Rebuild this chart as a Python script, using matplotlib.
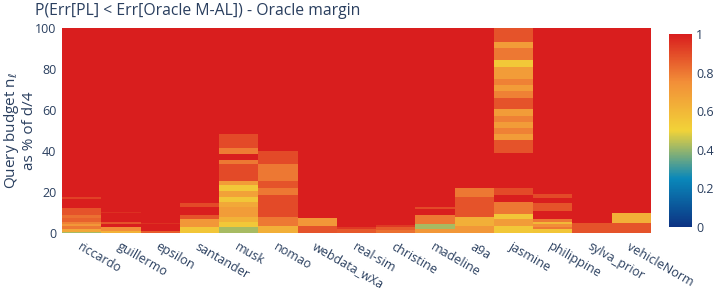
import numpy as np
import matplotlib.pyplot as plt
from matplotlib.colors import LinearSegmentedColormap

plt.rcParams['font.family'] = ['Open Sans', 'DejaVu Sans']

datasets = ['riccardo', 'guillermo', 'epsilon', 'santander', 'musk', 'nomao',
            'webdata_wXa', 'real-sim', 'christine', 'madeline', 'a9a', 'jasmine',
            'philippine', 'sylva_prior', 'vehicleNorm']

# (budget from, budget to, probability) - everything else is 1
riccardo = [(0, 0.6, 0.42), (0.6, 1.8, 0.66), (1.8, 3.4, 0.8), (3.4, 4.4, 0.72),
            (4.4, 5.5, 0.78), (5.5, 7.2, 0.85), (7.2, 8.8, 0.82), (8.8, 12, 0.88),
            (16.6, 17.7, 0.92)]
guillermo = [(0, 1.2, 0.62), (1.2, 3.1, 0.75), (4.4, 5.5, 0.88), (9.6, 10.4, 0.96)]
epsilon = [(0, 1, 0.86), (4.2, 4.8, 0.96)]
santander = [(0, 2.9, 0.55), (2.9, 6.8, 0.72), (6.8, 8.8, 0.88), (12.5, 14.5, 0.9)]
musk = [(0, 2.8, 0.42), (2.8, 5.5, 0.54), (5.5, 7.6, 0.62), (7.6, 12.5, 0.7),
        (12.5, 15.3, 0.66), (15.3, 17.4, 0.55), (17.4, 20.5, 0.68), (20.5, 23.4, 0.54),
        (23.4, 25.4, 0.7), (25.4, 33.7, 0.9), (33.7, 35.6, 0.8), (38.5, 41.3, 0.79),
        (41.3, 48.3, 0.9)]
nomao = [(0, 3.4, 0.63), (3.4, 7.6, 0.8), (7.6, 18.5, 0.9), (18.5, 22.1, 0.8),
         (22.1, 25.4, 0.88), (25.4, 33.7, 0.8), (33.7, 40.1, 0.9)]
webdata_wXa = [(0, 3.4, 0.88), (3.4, 7.5, 0.72)]
real_sim = [(0, 1.8, 0.87), (1.8, 2.8, 0.94)]
christine = [(0, 1.5, 0.82), (1.5, 2.8, 0.86), (2.8, 3.7, 0.94)]
madeline = [(0, 1.8, 0.72), (1.8, 4.4, 0.42), (4.4, 8.8, 0.8), (11.5, 12.8, 0.9)]
a9a = [(0, 3.4, 0.72), (3.4, 8, 0.63), (8, 17.7, 0.88), (17.7, 21.8, 0.8)]
jasmine = [(0, 3.4, 0.54), (3.4, 6.7, 0.7), (6.7, 9.3, 0.55), (9.3, 15.3, 0.8),
           (18.5, 21.8, 0.9), (38.9, 45.4, 0.88), (45.4, 48.3, 0.7), (48.3, 51.1, 0.78),
           (51.1, 54, 0.7), (54, 57.2, 0.78), (57.2, 60.3, 0.7), (60.3, 66, 0.88),
           (66, 69.3, 0.78), (69.3, 72.2, 0.7), (72.2, 75.1, 0.78), (75.1, 81.1, 0.7),
           (81.1, 84.4, 0.54), (84.4, 90.4, 0.8), (90.4, 93.3, 0.7), (93.3, 100, 0.88)]
philippine = [(0, 1.8, 0.55), (1.8, 3.1, 0.8), (3.1, 4.4, 0.75), (4.4, 5.5, 0.6),
              (5.5, 6.7, 0.8), (10.7, 14.8, 0.88), (17.2, 18.9, 0.9)]
sylva_prior = [(0, 4.7, 0.88)]
vehicleNorm = [(0, 4.7, 0.88), (4.7, 9.6, 0.63)]

all_bands = [riccardo, guillermo, epsilon, santander, musk, nomao, webdata_wXa,
             real_sim, christine, madeline, a9a, jasmine, philippine, sylva_prior,
             vehicleNorm]

# common grid of budget edges
edges = {0.0, 100.0}
for bands in all_bands:
    for lo, hi, _ in bands:
        edges.add(float(lo))
        edges.add(float(hi))
y_edges = np.array(sorted(edges))
y_mid = (y_edges[:-1] + y_edges[1:]) / 2

z = np.ones((len(y_mid), len(datasets)))
for j, bands in enumerate(all_bands):
    for lo, hi, val in bands:
        z[(y_mid > lo) & (y_mid < hi), j] = val

portland = LinearSegmentedColormap.from_list('portland', [
    (0.0, (12/255, 51/255, 131/255)),
    (0.25, (10/255, 136/255, 186/255)),
    (0.5, (242/255, 211/255, 56/255)),
    (0.75, (242/255, 143/255, 56/255)),
    (1.0, (217/255, 30/255, 30/255))])

text_col = '#2a3f5f'

fig = plt.figure(figsize=(7.2, 2.88), dpi=100)
ax = fig.add_axes([0.0861, 0.191, 0.818, 0.712])
mesh = ax.pcolormesh(np.arange(len(datasets) + 1), y_edges, z, cmap=portland,
                     vmin=0, vmax=1, shading='flat')
ax.set_xlim(0, len(datasets))
ax.set_ylim(0, 100)
for s in ax.spines.values():
    s.set_visible(False)

ax.set_yticks([0, 20, 40, 60, 80, 100])
ax.tick_params(axis='y', length=0, pad=4, labelsize=9, labelcolor=text_col)
ax.set_xticks(np.arange(len(datasets)) + 0.5)
ax.set_xticklabels(datasets, rotation=-30, ha='left', va='top',
                   rotation_mode='anchor', fontsize=9, color=text_col)
ax.tick_params(axis='x', length=0, pad=5)

# y title placed by hand so it stays inside the figure
fig.text(0.027, 0.547, 'Query budget n$_\\ell$\nas % of d/4', fontsize=11,
         color=text_col, rotation=90, ha='center', va='center',
         multialignment='center', linespacing=1.1)

fig.text(0.049, 0.962, 'P(Err[PL] < Err[Oracle M-AL]) - Oracle margin',
         fontsize=11.3, color=text_col, va='center', ha='left')

cax = fig.add_axes([0.929, 0.212, 0.032, 0.670])
cb = fig.colorbar(mesh, cax=cax, ticks=[0, 0.2, 0.4, 0.6, 0.8, 1])
cb.ax.set_yticklabels(['0', '0.2', '0.4', '0.6', '0.8', '1'])
cb.outline.set_visible(False)
cb.ax.tick_params(length=0, pad=3, labelsize=9, labelcolor=text_col)

fig.savefig('out.png', dpi=100)
